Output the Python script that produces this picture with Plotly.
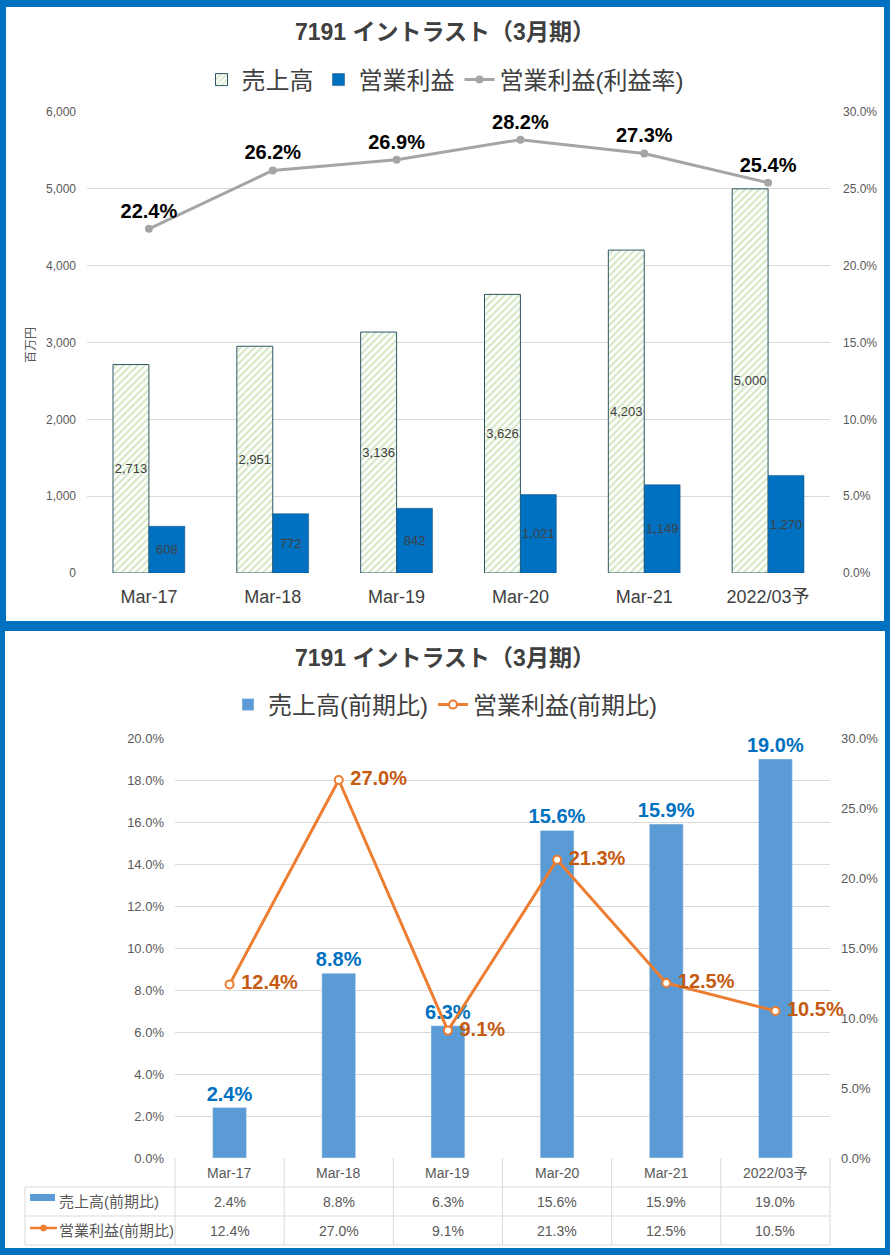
import plotly.graph_objects as go

W, H = 890, 1255

# ---------------- data ----------------
categories = ["Mar-17", "Mar-18", "Mar-19", "Mar-20", "Mar-21", "2022/03予"]
sales = [2713, 2951, 3136, 3626, 4203, 5000]            # 売上高 (百万円)
op_profit = [608, 772, 842, 1021, 1149, 1270]           # 営業利益 (百万円)
op_margin = [22.4, 26.2, 26.9, 28.2, 27.3, 25.4]        # 営業利益率 (%)
sales_yoy = [2.4, 8.8, 6.3, 15.6, 15.9, 19.0]           # 売上高 前期比 (%)
op_yoy = [12.4, 27.0, 9.1, 21.3, 12.5, 10.5]            # 営業利益 前期比 (%)

title_text = "7191 イントラスト（3月期）"
name_sales = "売上高"
name_op = "営業利益"
name_margin = "営業利益(利益率)"
name_sales_yoy = "売上高(前期比)"
name_op_yoy = "営業利益(前期比)"
y_unit = "百万円"

FONT = "Liberation Sans, Arial, Noto Sans CJK JP, sans-serif"
BLUE_BORDER = "#0070C0"
GRID = "#D9D9D9"
TXT = "#404040"
TICK = "#595959"


def py(p):
    return 1 - p / H


def px(p):
    return p / W


# plot-area pixel geometry
TOP_X = (87, 830)
TOP_Y = (112, 573)
BOT_X = (175, 830)
BOT_Y = (738, 1158)

fig = go.Figure()

# ---------------- top chart ----------------
fig.add_trace(go.Bar(
    x=categories, y=sales, name=name_sales, xaxis="x", yaxis="y",
    text=[f"{v:,}" for v in sales], textposition="inside",
    insidetextanchor="middle", textangle=0, constraintext="none",
    textfont=dict(size=13, color=TXT, family=FONT),
    marker=dict(color="white",
                pattern=dict(shape="/", fgcolor="#A9D18E", bgcolor="white",
                             size=5, solidity=0.45),
                line=dict(color="#2E5766", width=1)),
    legend="legend",
))
fig.add_trace(go.Bar(
    x=categories, y=op_profit, name=name_op, xaxis="x", yaxis="y",
    text=[f"{v:,}" for v in op_profit], textposition="inside",
    insidetextanchor="middle", textangle=0, constraintext="none",
    textfont=dict(size=13, color=TXT, family=FONT),
    marker=dict(color="#0070C0", line=dict(color="#1F4E79", width=0.5)),
    legend="legend",
))
fig.add_trace(go.Scatter(
    x=categories, y=op_margin, name=name_margin, xaxis="x", yaxis="y2",
    mode="lines+markers+text",
    texttemplate="%{y:.1f}%", textposition="top center",
    textfont=dict(size=20, color="black", family=FONT, weight="bold"),
    line=dict(color="#A5A5A5", width=3),
    marker=dict(symbol="circle", size=8, color="#A5A5A5"),
    cliponaxis=False,
    legend="legend",
))

# ---------------- bottom chart ----------------
fig.add_trace(go.Bar(
    x=categories, y=sales_yoy, name=name_sales_yoy, xaxis="x2", yaxis="y3",
    width=0.31,
    texttemplate="%{y:.1f}%", textposition="outside", constraintext="none",
    textfont=dict(size=20, color="#0070C0", family=FONT, weight="bold"),
    marker=dict(color="#5B9BD5"),
    cliponaxis=False,
    legend="legend2",
))
fig.add_trace(go.Scatter(
    x=categories, y=op_yoy, name=name_op_yoy, xaxis="x2", yaxis="y4",
    mode="lines+markers+text",
    texttemplate=" %{y:.1f}%", textposition="middle right",
    textfont=dict(size=20, color="#C55A11", family=FONT, weight="bold"),
    line=dict(color="#ED7D31", width=3),
    marker=dict(symbol="circle", size=8, color="white",
                line=dict(color="#ED7D31", width=2)),
    cliponaxis=False,
    legend="legend2",
))

# ---------------- panels (blue frame) ----------------
shapes = [
    dict(type="rect", xref="paper", yref="paper", layer="below",
         x0=px(6), x1=px(884), y0=py(621), y1=py(7),
         fillcolor="white", line=dict(width=0)),
    dict(type="rect", xref="paper", yref="paper", layer="below",
         x0=px(5), x1=px(885), y0=py(1248), y1=py(631),
         fillcolor="white", line=dict(width=0)),
]

# ---------------- data table under bottom chart ----------------
n = len(categories)
col_w = (BOT_X[1] - BOT_X[0]) / n
ROW_TOP, ROW1, ROW2, ROW3 = 1158, 1187, 1216, 1245
TABLE_LEFT = 25
line_style = dict(color=GRID, width=1)
for yy in (ROW1, ROW2, ROW3):
    shapes.append(dict(type="line", xref="paper", yref="paper",
                       x0=px(TABLE_LEFT), x1=px(BOT_X[1]), y0=py(yy), y1=py(yy),
                       line=line_style))
shapes.append(dict(type="line", xref="paper", yref="paper",
                   x0=px(TABLE_LEFT), x1=px(TABLE_LEFT), y0=py(ROW1), y1=py(ROW3),
                   line=line_style))
for i in range(n + 1):
    xx = BOT_X[0] + i * col_w
    shapes.append(dict(type="line", xref="paper", yref="paper",
                       x0=px(xx), x1=px(xx), y0=py(ROW_TOP), y1=py(ROW3),
                       line=line_style))
# legend keys in the table
shapes.append(dict(type="rect", xref="paper", yref="paper",
                   x0=px(30), x1=px(55), y0=py(1201), y1=py(1194),
                   fillcolor="#5B9BD5", line=dict(width=0)))
shapes.append(dict(type="line", xref="paper", yref="paper",
                   x0=px(30), x1=px(57), y0=py(1228), y1=py(1228),
                   line=dict(color="#ED7D31", width=2.5)))
shapes.append(dict(type="circle", xref="paper", yref="paper",
                   x0=px(40.5), x1=px(46.5), y0=py(1231), y1=py(1225),
                   fillcolor="#ED7D31", line=dict(color="#ED7D31", width=1)))

annotations = []
cell_font = dict(size=14, color=TICK, family=FONT)
for i, c in enumerate(categories):
    annotations.append(dict(x=c, xref="x2", y=py((ROW_TOP + ROW1) / 2), yref="paper",
                            text=c, showarrow=False, font=cell_font,
                            xanchor="center", yanchor="middle"))
    annotations.append(dict(x=c, xref="x2", y=py((ROW1 + ROW2) / 2), yref="paper",
                            text=f"{sales_yoy[i]:.1f}%", showarrow=False, font=cell_font,
                            xanchor="center", yanchor="middle"))
    annotations.append(dict(x=c, xref="x2", y=py((ROW2 + ROW3) / 2), yref="paper",
                            text=f"{op_yoy[i]:.1f}%", showarrow=False, font=cell_font,
                            xanchor="center", yanchor="middle"))
annotations.append(dict(x=px(57), xref="paper", y=py((ROW1 + ROW2) / 2), yref="paper",
                        text=name_sales_yoy, showarrow=False,
                        font=dict(size=15, color=TICK, family=FONT),
                        xanchor="left", yanchor="middle"))
annotations.append(dict(x=px(57), xref="paper", y=py((ROW2 + ROW3) / 2), yref="paper",
                        text=name_op_yoy, showarrow=False,
                        font=dict(size=15, color=TICK, family=FONT),
                        xanchor="left", yanchor="middle"))

# titles
title_font = dict(size=23, color=TXT, family=FONT, weight="bold")
annotations.append(dict(x=0.5, xref="paper", y=py(32), yref="paper", text=title_text,
                        showarrow=False, font=title_font, xanchor="center", yanchor="middle"))
annotations.append(dict(x=0.5, xref="paper", y=py(658), yref="paper", text=title_text,
                        showarrow=False, font=title_font, xanchor="center", yanchor="middle"))
# y-axis unit
annotations.append(dict(x=px(31), xref="paper", y=py(345), yref="paper", text=y_unit,
                        textangle=-90, showarrow=False,
                        font=dict(size=12, color=TICK, family=FONT),
                        xanchor="center", yanchor="middle"))

fig.update_layout(
    width=W, height=H, autosize=False,
    margin=dict(l=0, r=0, t=0, b=0, pad=0, autoexpand=False),
    paper_bgcolor=BLUE_BORDER, plot_bgcolor="rgba(0,0,0,0)",
    font=dict(family=FONT, color=TXT),
    barmode="group", bargap=0.42, bargroupgap=0,
    shapes=shapes, annotations=annotations,
    legend=dict(orientation="h", x=0.5, xanchor="center", y=py(80), yanchor="middle",
                font=dict(size=24, color=TXT, family=FONT), bgcolor="rgba(0,0,0,0)",
                itemwidth=30),
    legend2=dict(orientation="h", x=0.5, xanchor="center", y=py(705), yanchor="middle",
                 font=dict(size=24, color=TXT, family=FONT), bgcolor="rgba(0,0,0,0)",
                 itemwidth=30),
    xaxis=dict(domain=[px(TOP_X[0]), px(TOP_X[1])], anchor="y", type="category",
               showgrid=False, showline=False, ticks="", zeroline=False,
               tickfont=dict(size=18, color=TXT, family=FONT), ticklabelstandoff=11),
    yaxis=dict(domain=[py(TOP_Y[1]), py(TOP_Y[0])], anchor="x", range=[0, 6000],
               dtick=1000, tickformat=",d", showgrid=True, gridcolor=GRID,
               zeroline=False, showline=False, ticks="",
               tickfont=dict(size=12, color=TICK, family=FONT), ticklabelstandoff=10),
    yaxis2=dict(overlaying="y", anchor="x", side="right", range=[0, 30], dtick=5,
                tickformat=".1f", ticksuffix="%", showgrid=False, zeroline=False,
                showline=False, ticks="",
                tickfont=dict(size=12, color=TICK, family=FONT), ticklabelstandoff=12),
    xaxis2=dict(domain=[px(BOT_X[0]), px(BOT_X[1])], anchor="y3", type="category",
                showgrid=False, showline=False, ticks="", zeroline=False,
                showticklabels=False),
    yaxis3=dict(domain=[py(BOT_Y[1]), py(BOT_Y[0])], anchor="x2", range=[0, 20],
                dtick=2, tickformat=".1f", ticksuffix="%", showgrid=True,
                gridcolor=GRID, zeroline=False, showline=False, ticks="",
                tickfont=dict(size=13, color=TICK, family=FONT), ticklabelstandoff=10),
    yaxis4=dict(overlaying="y3", anchor="x2", side="right", range=[0, 30], dtick=5,
                tickformat=".1f", ticksuffix="%", showgrid=False, zeroline=False,
                showline=False, ticks="",
                tickfont=dict(size=13, color=TICK, family=FONT), ticklabelstandoff=10),
)

fig.write_html(
    "out.html",
    config={"displayModeBar": False},
    post_script=(
        "document.documentElement.style.margin='0';"
        "document.body.style.margin='0';document.body.style.padding='0';"
        "document.body.style.overflow='hidden';"
        "var d=document.getElementById('{plot_id}');"
        "d.style.position='fixed';d.style.left='0px';d.style.top='0px';"
    ),
)
